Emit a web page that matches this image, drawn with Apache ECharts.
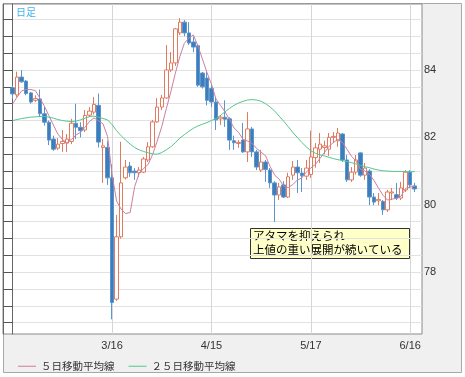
<!DOCTYPE html>
<html><head><meta charset="utf-8">
<script src="https://cdn.jsdelivr.net/npm/echarts@6/dist/echarts.min.js"></script>
<style>html,body{margin:0;padding:0;background:#fff}#c{width:465px;height:377px}</style>
</head><body><div id="c"></div>
<script>
const opens=[83.47,83.26,83.79,83.67,83.32,83.1,83.14,82.7,82.45,81.95,
81.68,81.82,81.83,81.88,82.42,82.3,82.22,82.66,82.75,82.95,
81.7,81.7,80.8,77.2,79.05,80.8,81.15,81.0,80.95,80.97,
81.33,81.72,82.46,82.9,83.17,84.0,84.21,85.1,85.42,85.1,
84.83,84.72,83.91,83.76,83.45,83.05,82.55,82.6,82.55,81.9,
81.82,81.92,81.57,82.25,81.57,81.03,81.27,81.03,80.65,80.29,
80.59,80.23,80.88,81.12,80.94,80.85,80.9,81.4,81.65,81.7,
81.65,82.0,81.9,82.1,81.33,80.74,80.97,81.54,80.88,81.0,
80.23,80.12,80.1,79.85,80.35,80.3,80.2,80.44,80.97,80.56];
const closes=[83.29,83.79,83.65,83.3,83.05,83.15,82.7,82.45,81.92,81.65,
81.8,81.88,81.95,82.42,82.3,82.2,82.65,82.78,82.98,81.86,
81.75,80.8,77.1,79.05,80.65,81.12,80.95,80.95,81.03,81.36,
81.72,82.46,82.9,83.17,84.0,84.21,85.22,85.42,85.1,84.8,
84.68,83.55,83.5,83.1,83.05,82.52,82.6,82.54,81.92,81.84,
81.85,81.57,82.25,81.57,81.12,81.27,81.05,80.65,80.29,80.53,
80.23,80.83,81.12,80.95,80.86,81.09,81.42,81.69,81.8,81.75,
82.0,82.03,82.13,81.33,80.74,80.97,81.33,80.88,81.09,80.23,
80.08,80.16,79.85,80.38,80.38,80.2,80.5,80.97,80.59,80.47];
const lows=[83.15,83.2,83.62,83.25,83.0,83.05,82.6,82.35,81.77,81.6,
81.62,81.57,81.57,81.8,81.95,82.0,82.16,82.6,82.68,81.7,
80.65,80.59,76.6,77.15,79.0,80.75,80.83,80.74,80.83,80.94,
81.27,81.69,82.43,82.81,83.15,83.94,84.12,85.04,85.0,84.74,
84.53,83.5,83.45,82.95,82.9,82.22,82.37,82.31,81.63,81.63,
81.69,81.54,81.27,81.42,81.03,80.97,80.68,80.5,79.49,80.14,
80.2,80.2,80.74,80.35,80.38,80.74,80.8,81.1,81.24,81.5,
81.45,81.83,81.72,81.27,80.68,80.68,80.9,80.83,80.74,79.99,
79.99,79.99,79.7,79.79,80.14,80.14,80.14,80.38,80.5,80.38];
const highs=[83.55,83.95,84.0,83.7,83.35,83.25,83.42,82.9,82.5,82.05,
81.98,82.22,82.1,82.55,83.0,82.45,82.81,82.9,83.2,83.3,
81.95,81.9,81.2,79.7,81.87,81.33,81.27,81.09,81.12,81.42,
81.86,82.52,83.17,83.26,84.74,84.53,85.25,85.54,85.48,85.42,
84.98,84.76,83.94,83.94,83.55,83.2,82.66,83.1,82.6,82.05,
81.92,82.43,82.75,82.31,81.63,81.63,81.33,81.09,80.7,80.65,
80.7,80.95,81.3,81.33,81.09,81.33,82.2,81.83,82.13,81.9,
82.13,82.16,82.28,82.13,81.48,81.12,81.48,81.56,81.24,81.05,
80.35,80.35,80.14,80.44,80.5,80.65,80.68,81.03,81.03,80.65];
const ma5=[83.0,83.2,83.38,83.42,83.42,83.39,83.17,82.93,82.65,82.37,
82.10,81.94,81.84,81.94,82.07,82.15,82.30,82.47,82.58,82.49,
82.40,82.03,80.90,80.11,79.87,79.74,79.77,80.54,80.94,81.08,
81.20,81.50,81.89,82.32,82.85,83.35,83.90,84.40,84.79,84.95,
85.04,84.71,84.33,83.93,83.58,83.14,82.95,82.76,82.53,82.28,
82.15,81.94,81.89,81.82,81.67,81.56,81.45,81.13,80.88,80.76,
80.55,80.51,80.60,80.73,80.80,80.97,81.09,81.20,81.37,81.55,
81.73,81.85,81.94,81.85,81.65,81.44,81.30,81.05,81.00,80.90,
80.72,80.49,80.28,80.14,80.17,80.19,80.26,80.49,80.53,80.55];
const ma25=[82.5,82.53,82.56,82.58,82.6,82.61,82.62,82.62,82.6,82.57,
82.53,82.5,82.48,82.47,82.48,82.52,82.57,82.62,82.63,82.6,
82.56,82.52,82.38,82.2,82.05,81.92,81.8,81.7,81.63,81.58,
81.54,81.51,81.5,81.55,81.63,81.72,81.84,81.98,82.08,82.18,
82.27,82.34,82.39,82.44,82.5,82.56,82.65,82.76,82.86,82.95,
83.02,83.07,83.11,83.12,83.11,83.07,83.0,82.9,82.78,82.63,
82.48,82.32,82.15,82.0,81.85,81.72,81.6,81.53,81.48,81.45,
81.41,81.37,81.34,81.31,81.28,81.25,81.21,81.17,81.13,81.1,
81.06,81.03,81.01,81.0,80.99,80.99,80.99,80.98,80.98,80.98];
const xTickIndex=[22,44,66,88];
const xTickLabels=['3/16','4/15','5/17','6/16'];
const xGridIndex=[0,22,44,66,88];
const yLabelValues=[78,80,82,84];
const yTickValues=[76.5,77,77.5,78,78.5,79,79.5,80,80.5,81,81.5,82,82.5,83,83.5,84,84.5,85,85.5];
const seriesNames=['５日移動平均線','２５日移動平均線'];
const noteLines=['アタマを抑えられ','上値の重い展開が続いている'];

const chart=echarts.init(document.getElementById('c'),null,{renderer:'canvas'});
const candle=opens.map((o,i)=>[i,o,closes[i],lows[i],highs[i]]);
const YMIN=76.166, YMAX=85.958;
const jp='"Noto Sans CJK JP", sans-serif';
const yBase={type:'value',min:YMIN,max:YMAX,
  axisTick:{show:true,inside:true,length:5,customValues:yTickValues,lineStyle:{color:'#555'}},
  axisLine:{show:true,lineStyle:{color:'#666'}}};
chart.setOption({
  animation:false,
  backgroundColor:'#fff',
  graphic:[
    {type:'rect',z:-100,shape:{x:3.5,y:3.5,width:458,height:369},style:{fill:'#f0f0f0',stroke:'#a8a8a8',lineWidth:1},silent:true},
    {type:'text',z:100,left:16,top:7,style:{text:'日足',fill:'#3fb2ee',font:'10px '+jp}},
    {type:'group',z:100,left:250,top:228,children:[
      {type:'rect',shape:{x:0.5,y:0.5,width:159,height:30},style:{fill:'#ffffc8',stroke:'#333',lineWidth:1}},
      {type:'text',x:3,y:2,style:{text:noteLines[0],fill:'#000',font:'11.5px '+jp}},
      {type:'text',x:3,y:16,style:{text:noteLines[1],fill:'#000',font:'11.5px '+jp}}
    ]}
  ],
  grid:{left:3,top:4,width:419,height:330,show:true,backgroundColor:'#fff',borderColor:'#8a8a8a',borderWidth:1},
  legend:{left:13,top:356,icon:'rect',itemWidth:18,itemHeight:1,itemGap:14,
    textStyle:{fontSize:10.5,color:'#333',fontFamily:jp},data:seriesNames},
  xAxis:{type:'value',min:-2.147,max:90.61,
    axisLine:{show:false},
    axisTick:{show:false,customValues:xGridIndex},
    axisLabel:{customValues:xTickIndex,color:'#333',fontSize:11,margin:6,fontFamily:'"Liberation Sans", sans-serif',
      formatter:v=>{const k=xTickIndex.indexOf(Math.round(v));return k>=0?xTickLabels[k]:'';}},
    splitLine:{show:true,lineStyle:{color:'#d6d6d6'}}},
  yAxis:[
    Object.assign({},yBase,{position:'right',
      axisLabel:{customValues:yLabelValues,color:'#333',fontSize:11,margin:2,fontFamily:'"Liberation Sans", sans-serif'},
      splitLine:{show:true,lineStyle:{color:'#e2e2e2'}}}),
    Object.assign({},yBase,{position:'left',axisLabel:{show:false},splitLine:{show:false}})
  ],
  series:[
    {type:'candlestick',data:candle,encode:{x:0,y:[1,2,3,4]},barWidth:4,
      itemStyle:{color:'#fff',color0:'#3d7dbd',borderColor:'#e07b5f',borderColor0:'#5b95cc',borderWidth:1}},
    {name:seriesNames[0],type:'line',data:ma5.map((v,i)=>[i,v]),showSymbol:false,
      itemStyle:{color:'#cc7fa0'},lineStyle:{color:'#cc7fa0',width:1}},
    {name:seriesNames[1],type:'line',data:ma25.map((v,i)=>[i,v]),showSymbol:false,
      itemStyle:{color:'#55c690'},lineStyle:{color:'#55c690',width:1}}
  ]
});
</script></body></html>
